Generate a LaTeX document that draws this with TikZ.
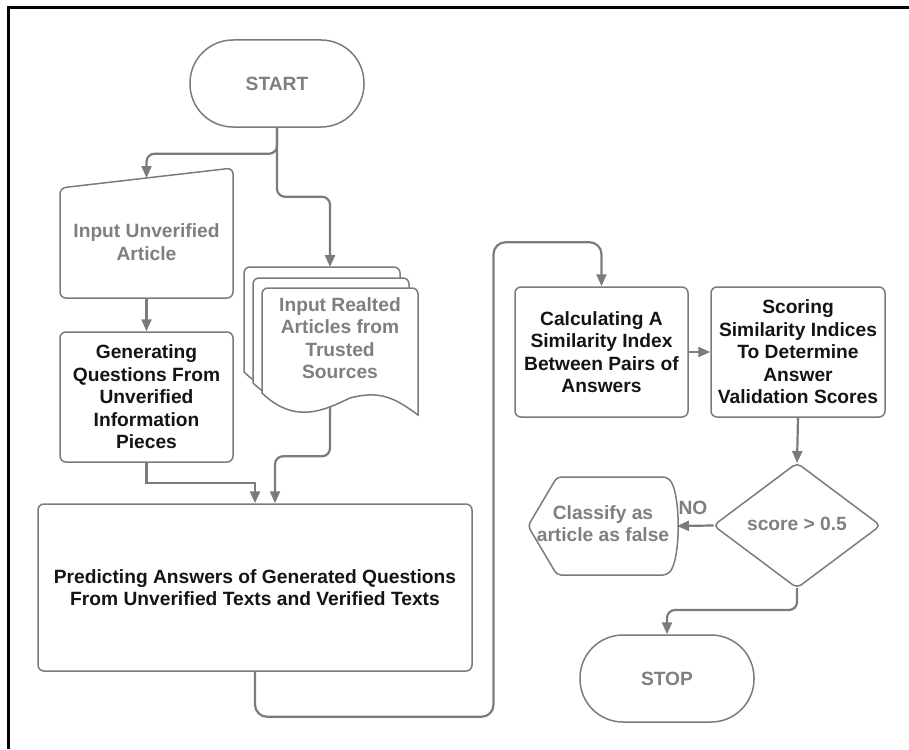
\documentclass[tikz,border=0pt]{standalone}
\usepackage{fontspec}
\setmainfont{Liberation Sans}
\usetikzlibrary{arrows.meta,calc}
\definecolor{lin}{HTML}{7B7B7B}
\definecolor{gtxt}{HTML}{7F7F7F}
\definecolor{btxt}{HTML}{141414}
\tikzset{
 outl/.style={draw=lin,line width=1.5pt},
 lbl/.style={font=\bfseries\fontsize{19.2}{22.5}\selectfont,align=center,inner sep=0pt},
 boxnode/.style={outl,lbl,rounded corners=6pt,text=btxt},
 termnode/.style={outl,lbl,text=gtxt,rounded corners=43pt,minimum width=174pt,minimum height=87pt},
 framenode/.style={draw=none,inner sep=0pt,outer sep=0pt},
 arr/.style={draw=lin,line width=2.2pt,-{Triangle[length=12pt,width=10pt]}},
}
\begin{document}
\begin{tikzpicture}[x=1pt,y=-1pt]
\useasboundingbox (0,0) rectangle (909,749);
\draw[black,line width=3pt] (8,749) -- (8,8) -- (909,8);

% START
\node[termnode] (start) at (277,83.5) {START};

% Input unverified article (manual input)
\node[framenode,minimum width=173pt,minimum height=130pt] (inp) at (146.5,233) {};
\draw[outl,rounded corners=6pt] ($(inp.north west)+(0,20)$) -- (inp.north east) -- (inp.south east) -- (inp.south west) -- cycle;
\node[lbl,text=gtxt] (inptxt) at (146.5,242) {Input Unverified\\Article};
\coordinate (inptop) at ($(inp.north)+(0,10)$);

% Generating
\node[boxnode,minimum width=173pt,minimum height=130pt] (gen) at (146.5,397) {Generating\\Questions From\\Unverified\\Information\\Pieces};

% Multiple documents
\foreach \dx/\dy in {-18/-21,-9/-10,0/0}{
 \begin{scope}[shift={(\dx,\dy)}]
 \filldraw[outl,fill=white,rounded corners=6pt] (262,393) -- (262,288) -- (418,288) [sharp corners] -- (418,415)
   .. controls (395,398) and (380,390) .. (350,398)
   .. controls (325,410) and (295,425) .. (262,393) -- cycle;
 \end{scope}
}
\node[lbl,text=gtxt] (doctxt) at (340,338) {Input Realted\\Articles from\\Trusted\\Sources};
\coordinate (doctop) at (330,267);
\coordinate (docbot) at (330,407);

% Predicting
\node[boxnode,minimum width=434pt,minimum height=167pt] (pred) at (255,587.5) {Predicting Answers of Generated Questions\\From Unverified Texts and Verified Texts};
\coordinate (pin2) at ($(pred.north)+(20,0)$);

% Calculating / Scoring
\node[boxnode,minimum width=173pt,minimum height=130pt] (calc) at (601.5,352) {Calculating A\\Similarity Index\\Between Pairs of\\Answers};
\node[boxnode,minimum width=174pt,minimum height=130pt] (score) at (798,352) {Scoring\\Similarity Indices\\To Determine\\Answer\\Validation Scores};

% Decision
\node[framenode,minimum width=167pt,minimum height=125pt] (dia) at (797,525.5) {};
\draw[outl,rounded corners=5pt] (dia.north) -- (dia.east) -- (dia.south) -- (dia.west) -- cycle;
\node[lbl,text=gtxt] (diatxt) at (797,524) {score > 0.5};

% Classify (display shape)
\node[framenode,minimum width=149pt,minimum height=98pt] (cls) at (602.5,526) {};
\draw[outl,rounded corners=4pt] (557,477) -- (667,477) .. controls (681,492) and (681,560) .. (667,575) -- (557,575) -- (528,526) -- cycle;
\node[lbl,text=gtxt] (clstxt) at (603,523.5) {Classify as\\article as false};

% STOP
\node[termnode] (stop) at (667,678.5) {STOP};

% connectors
\draw[arr,rounded corners=8pt] (start.south) -- ++(0,26) -| (inptop);
\draw[arr,rounded corners=8pt] (start.south) -- ++(0,69) -| (doctop);
\draw[arr] (inp.south) -- (gen.north);
\draw[arr] (gen.south) -- ++(0,20) -| (pred.north);
\draw[arr,rounded corners=8pt] (docbot) |- ($(pin2)+(0,-47)$) -- (pin2);
\draw[arr,rounded corners=12pt] (pred.south) -- ++(0,45) -| ($(calc.north)+(-108,-44)$) -| (calc.north);
\draw[arr] (calc.east) -- (score.west);
\draw[arr] (score.south) -- (dia.north);
\draw[arr] (dia.west) -- (cls.east);
\node[lbl,text=gtxt] (nolbl) at (693,508) {NO};
\draw[arr,rounded corners=8pt] (dia.south) -- ++(0,22) -| (stop.north);
\end{tikzpicture}
\end{document}
